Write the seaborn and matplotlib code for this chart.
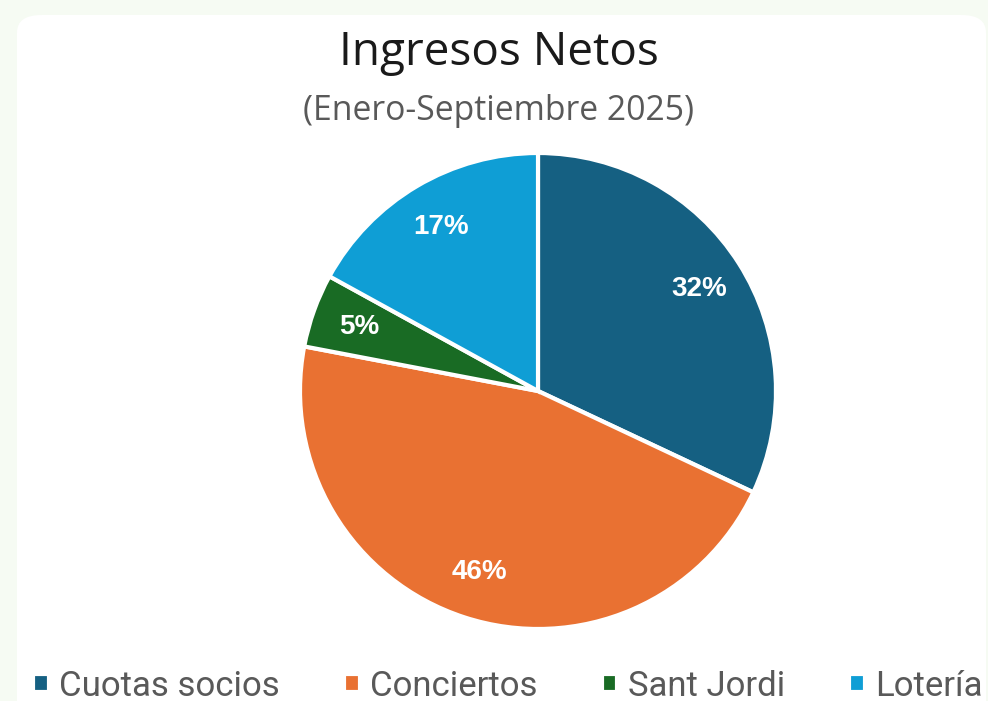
import matplotlib
matplotlib.use("Agg")
import matplotlib.pyplot as plt
import seaborn as sns
from matplotlib.patches import FancyBboxPatch

# Data
categories = ["Cuotas socios", "Conciertos", "Sant Jordi", "Lotería"]
shares = [32, 46, 5, 17]
slice_colors = ["#156082", "#E97132", "#196B24", "#0F9ED5"]

title = "Ingresos Netos"
subtitle = "(Enero-Septiembre 2025)"

sns.set_theme(style="white")
palette = sns.color_palette(slice_colors)

W, H = 988, 701
fig = plt.figure(figsize=(W / 100, H / 100), dpi=100)
fig.patch.set_facecolor("#f6fbf3")

# white card behind the chart
card = FancyBboxPatch((17 / W, -0.05), (W - 19) / W, 1.05 - 15 / H,
                      boxstyle="round,pad=0,rounding_size=0.025",
                      transform=fig.transFigure, facecolor="white",
                      edgecolor="none", zorder=-5)
fig.patches.append(card)

# pie axes: centre (538, 391) px, radius 238 px
cx, cy, r = 538, 391, 238
ax = fig.add_axes([(cx - r) / W, (H - cy - r) / H, 2 * r / W, 2 * r / H])
ax.set_zorder(2)
ax.patch.set_visible(False)
wedges, _, autotexts = ax.pie(
    shares, colors=palette, startangle=90, counterclock=False,
    autopct="%1.0f%%", pctdistance=0.8,
    wedgeprops=dict(edgecolor="white", linewidth=3, clip_on=False),
    textprops=dict(color="white", fontsize=20, fontweight="bold",
                   family="Liberation Sans"))
ax.set_xlim(-1, 1)
ax.set_ylim(-1, 1)
ax.set_aspect("equal")
ax.axis("off")

fig.text(499 / W, 1 - 53 / H, title, ha="center", va="center",
         fontsize=33, color="#1a1a1a", family="Open Sans")
fig.text(498 / W, 1 - 111 / H, subtitle, ha="center", va="center",
         fontsize=24.3, color="#595959", family="Open Sans")

leg = fig.legend(wedges, categories, ncol=4, loc="center left",
                 bbox_to_anchor=(33 / W, 1 - 686 / H), frameon=False,
                 handlelength=0.45, handleheight=0.45, handletextpad=0.3,
                 columnspacing=1.85, borderaxespad=0, borderpad=0,
                 prop=dict(family="Roboto", size=25))
for t in leg.get_texts():
    t.set_color("#595959")

fig.savefig("out.png", dpi=100, facecolor=fig.get_facecolor())
